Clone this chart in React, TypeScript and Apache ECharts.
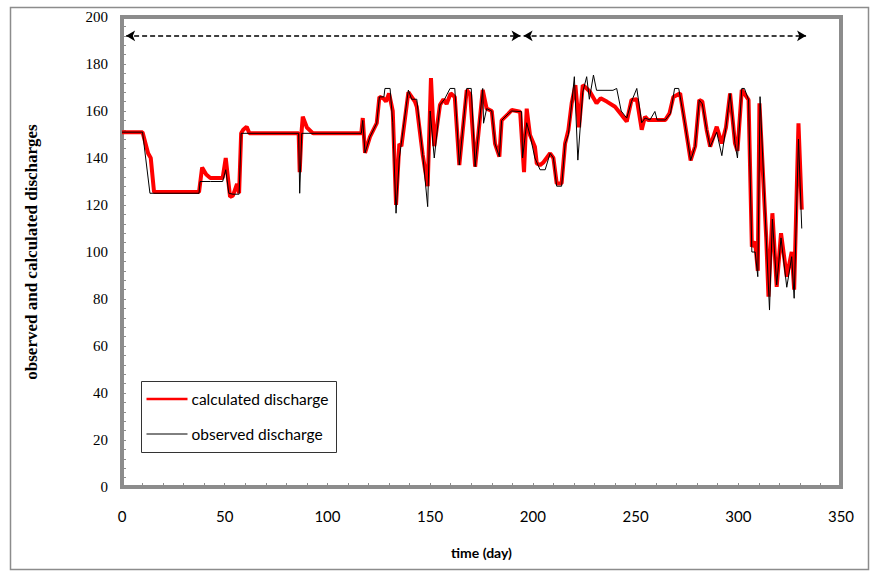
import React, { useEffect, useRef } from "react";
import * as echarts from "echarts";

// calculated discharge (red)
const calcDays = [0, 10, 12.7, 14, 15.6, 37.5, 39, 41, 43, 49, 50.5, 52.6, 54, 56, 57, 58, 59, 60.7, 62, 86, 86.5, 87.3, 88, 90, 93, 116.5, 117.2, 118.3, 120.7, 124, 125.3, 127.2, 128.5, 130, 131.8, 133.4, 135, 136, 139.4, 142.6, 143.5, 146.4, 148.8, 150.4, 152, 154.8, 156.5, 158, 160, 162, 164.2, 167.8, 169.5, 171.9, 175.6, 177.5, 180, 181.6, 183.7, 184.8, 188, 189.7, 193.8, 195.7, 197, 198.6, 201, 201.9, 203.5, 205, 208.4, 210, 211.6, 214, 215.7, 217.3, 218.9, 220.7, 222.5, 224.3, 225.4, 227.8, 231, 233, 236, 240, 243.2, 245.7, 248, 250.6, 253, 254.6, 256, 264.5, 266.5, 268.4, 271.7, 274, 276.8, 279, 281, 282.5, 284.6, 286.3, 289.5, 292, 294, 296, 298.4, 299.6, 301.7, 305, 306.6, 308.2, 309.5, 310.3, 313.6, 314.7, 316.6, 318.7, 320.8, 323.6, 326, 327.2, 329.3, 330.9];
const calcValues = [151, 151, 142, 140, 125.5, 125.5, 136, 133, 131.5, 131.5, 140, 123.5, 124, 129, 125, 150.5, 152, 153.3, 150.5, 150.5, 134, 150, 157.6, 153, 150.5, 150.5, 157, 142.2, 149, 154.8, 166, 165.4, 164, 167.5, 160, 120, 146, 145, 168, 164, 161.8, 141.3, 128, 174, 145, 162.6, 165, 163, 167.5, 166, 137, 168.9, 167, 136.3, 169, 161, 160, 146, 140.6, 156, 158.8, 160.4, 159.7, 134, 161, 149.8, 144.8, 137.7, 137, 138, 142, 140, 129.2, 129.2, 146.2, 151.9, 163.3, 171, 153, 171, 170.3, 168.2, 163.3, 165.4, 164, 161.8, 158.3, 155.5, 164.7, 165, 152, 157.6, 156.2, 156.2, 159, 166, 167.5, 154.8, 139, 145, 164.7, 164, 152, 144.8, 153.3, 146.2, 153, 167.5, 146.2, 143, 169, 164.7, 102.3, 104.4, 92, 163.3, 106, 81, 116.5, 85.2, 108, 89.5, 100, 84, 154.8, 118];

// observed discharge (black)
const obsDays = [0, 10, 13.6, 37.5, 38, 43, 49, 50.5, 52, 54, 57, 58, 86, 86.5, 87.5, 116.5, 117.2, 118.3, 120.7, 124, 125.3, 127.5, 128, 130.5, 131.8, 133.4, 135, 139.4, 141, 143.5, 146.4, 148.8, 150, 152, 154.8, 157, 159.7, 162, 164.2, 167.8, 170, 171.9, 175.6, 176, 177.5, 180, 181.6, 183.7, 184.8, 188, 189.7, 194.5, 195, 197, 198.6, 201, 203.5, 206, 208.4, 210, 211.6, 214, 215.7, 217.3, 218.9, 220.2, 221.9, 224.3, 226.2, 227.5, 229.5, 231, 239, 240.8, 243, 245.7, 248, 250.6, 253, 254.6, 257, 259.4, 260.5, 264.5, 267, 269, 271, 274, 276.8, 279, 281, 282.5, 284.6, 286.3, 289.5, 292, 294, 296, 298.4, 299.6, 301.7, 303, 305, 306.6, 308.2, 309.5, 310.6, 313.6, 315.2, 316.6, 318.7, 320.8, 323.6, 326, 327.2, 329.3, 330.9];
const obsValues = [151, 151, 125, 125, 130, 130, 130, 135, 125, 124.6, 124.6, 150.5, 150.5, 125, 150.5, 150.5, 156, 142.2, 149, 154.8, 166, 166, 169.6, 169.6, 155, 116.5, 140, 168.9, 165, 165, 141.3, 119.3, 160, 140, 162.6, 165, 169.6, 169.6, 137, 169.6, 169.6, 136.3, 169.6, 154.8, 161, 160, 146, 140.6, 156, 158.8, 160, 159.7, 140, 155, 149.8, 140, 135, 135, 142, 140, 128, 128, 146, 150, 163, 174.6, 139.1, 168, 174.6, 165, 175.3, 168.8, 168.8, 169.6, 160, 157, 164, 169.6, 155, 157, 156.2, 159.8, 156.2, 156.2, 159, 169.6, 169.6, 154.8, 139, 145, 164.7, 163, 152, 144.8, 151, 141, 153, 167.5, 146.2, 140, 169.6, 169.6, 164.7, 100, 100, 89.5, 166.1, 106, 75.3, 114, 86, 106, 85, 98, 80.3, 148, 110];

// period arrows (day ranges) drawn at this discharge level
const periodStarts = [2, 195.5];
const periodEnds = [194, 333];
const periodLevel = 192;

const seriesNames = ["calculated discharge", "observed discharge"];

export default function App() {
  const ref = useRef<HTMLDivElement>(null);
  useEffect(() => {
    document.body.style.margin = "0";
    const chart = echarts.init(ref.current!, null, { renderer: "svg" });
    const calc = calcDays.map((d, i) => [d, calcValues[i]]);
    const obs = obsDays.map((d, i) => [d, obsValues[i]]);
    const arrowData = periodStarts.map((s, i) => [
      { coord: [s, periodLevel] },
      { coord: [periodEnds[i], periodLevel] },
    ]);
    chart.setOption({
      animation: false,
      backgroundColor: "#fff",
      grid: {
        left: 122,
        right: 30,
        top: 17,
        bottom: 85,
        show: true,
        borderColor: "#8c8c8c",
        borderWidth: 4,
        backgroundColor: "transparent",
      },
      xAxis: {
        type: "value",
        min: 0,
        max: 350,
        interval: 50,
        name: "time (day)",
        nameLocation: "middle",
        nameGap: 58,
        nameTextStyle: { fontFamily: "Lato", fontWeight: "bold", fontSize: 14, color: "#000" },
        axisLine: { show: false },
        axisTick: { show: true, inside: true, length: 4, lineStyle: { color: "#8c8c8c" } },
        minorTick: { show: true, splitNumber: 5, length: 4, lineStyle: { color: "#8c8c8c" } },
        splitLine: { show: false },
        axisLabel: { margin: 21, fontFamily: "Lato", fontSize: 15, color: "#000" },
      },
      yAxis: {
        type: "value",
        min: 0,
        max: 200,
        interval: 20,
        name: "observed and calculated discharges",
        nameLocation: "middle",
        nameGap: 82,
        nameTextStyle: { fontFamily: "Liberation Serif", fontWeight: "bold", fontSize: 17, color: "#000" },
        axisLine: { show: false },
        axisTick: { show: true, inside: true, length: 4, lineStyle: { color: "#8c8c8c" } },
        minorTick: { show: true, splitNumber: 5, length: 4, lineStyle: { color: "#8c8c8c" } },
        splitLine: { show: false },
        axisLabel: { margin: 14, fontFamily: "Liberation Serif", fontSize: 15, color: "#000" },
      },
      series: [
        {
          name: seriesNames[0],
          type: "line",
          data: calc,
          symbol: "none",
          lineStyle: { color: "#ff0000", width: 4 },
          itemStyle: { color: "#ff0000" },
          z: 2,
          markLine: {
            silent: true,
            symbol: ["arrow", "arrow"],
            symbolSize: [8, 9],
            label: { show: false },
            lineStyle: { color: "#000", width: 1.5, type: [5, 3] },
            data: arrowData,
          },
        },
        {
          name: seriesNames[1],
          type: "line",
          data: obs,
          symbol: "none",
          lineStyle: { color: "#000", width: 1 },
          itemStyle: { color: "#000" },
          z: 3,
        },
      ],
      graphic: [
        {
          type: "rect",
          left: 8,
          top: 5,
          shape: { x: 0, y: 0, width: 858, height: 562 },
          style: { fill: "none", stroke: "#8c8c8c", lineWidth: 1.5 },
          silent: true,
          z: -10,
        },
        {
          type: "group",
          left: 141,
          top: 381,
          children: [
            {
              type: "rect",
              shape: { x: 0, y: 0, width: 195, height: 71 },
              style: { fill: "#fff", stroke: "#333", lineWidth: 1 },
            },
            {
              type: "line",
              shape: { x1: 5, y1: 17.5, x2: 46, y2: 17.5 },
              style: { stroke: "#ff0000", lineWidth: 2.5 },
            },
            {
              type: "text",
              x: 50,
              y: 17.5,
              style: { text: seriesNames[0], fontFamily: "Lato", fontSize: 15.5, fill: "#000", verticalAlign: "middle" },
            },
            {
              type: "line",
              shape: { x1: 5, y1: 52.5, x2: 46, y2: 52.5 },
              style: { stroke: "#000", lineWidth: 1 },
            },
            {
              type: "text",
              x: 50,
              y: 52.5,
              style: { text: seriesNames[1], fontFamily: "Lato", fontSize: 15.5, fill: "#000", verticalAlign: "middle" },
            },
          ],
          z: 10,
        },
      ],
    });
    return () => chart.dispose();
  }, []);
  return <div ref={ref} style={{ width: 871, height: 572 }} />;
}
